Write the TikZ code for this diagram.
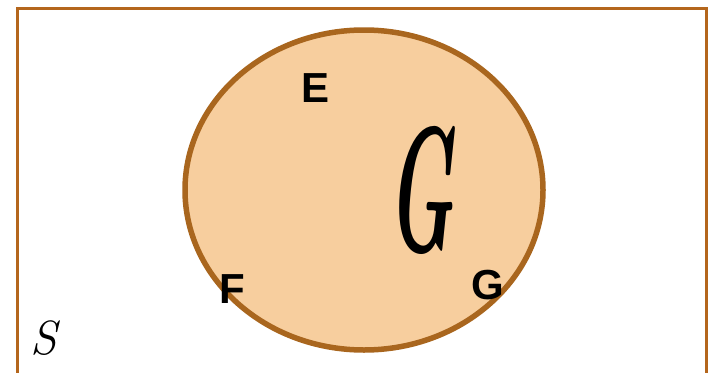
\documentclass[tikz,border=0pt]{standalone}
\usepackage{fontspec}
\setsansfont{Liberation Sans}
\usetikzlibrary{shapes.geometric}
\definecolor{setline}{HTML}{B4661C}
\definecolor{vennfill}{HTML}{F7CE9E}
\definecolor{vennline}{HTML}{A9661E}
\tikzset{
  setbox/.style = {draw=setline, line width=3pt},
  venn/.style   = {draw=vennline, fill=vennfill, line width=5.5pt},
  lbl/.style    = {font=\sffamily\bfseries\fontsize{42}{42}\selectfont, inner sep=0pt},
}
\begin{document}
\begin{tikzpicture}[x=1pt,y=-1pt]
  \useasboundingbox (0,0) rectangle (711,372);
  \clip (0,0) rectangle (711,372);
  \draw[setbox] (17,8) rectangle (706,390);
  \node[venn, ellipse, minimum width=358pt, minimum height=320pt, inner sep=0pt] (G) at (364,190) {};
  \node[inner sep=0pt, xscale=0.42, font=\bfseries\itshape\fontsize{178}{178}\selectfont] (name) at (421,190) {G};
  \node[lbl] (e) at (316,88) {E};
  \node[lbl] (f) at (232,289) {F};
  \node[lbl] (g) at (488,285) {G};
  \node[inner sep=0pt, font=\itshape\fontsize{48}{48}\selectfont] (s) at (44,338) {S};
\end{tikzpicture}
\end{document}
